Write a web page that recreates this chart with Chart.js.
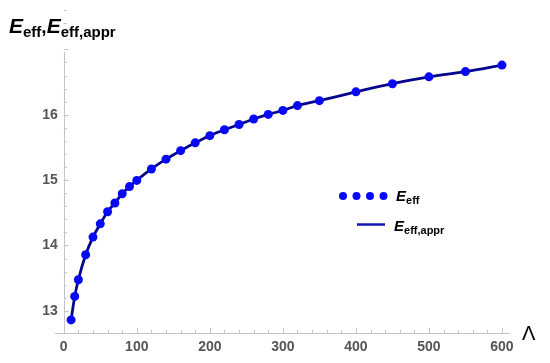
<!DOCTYPE html>
<html>
<head>
<meta charset="utf-8">
<script src="https://cdn.jsdelivr.net/npm/chart.js@4/dist/chart.umd.min.js"></script>
<style>
  html, body { margin: 0; padding: 0; background: #fff; }
  #wrap { position: relative; width: 550px; height: 363px; }
  #c { position: absolute; left: 0; top: 0; }
  .t { position: absolute; font-family: "Liberation Sans", Arial, sans-serif; white-space: nowrap; line-height: 1; color: #000; }
  .E { font-style: italic; font-weight: bold; }
  .s { font-weight: bold; position: relative; }
</style>
</head>
<body>
<div id="wrap">
  <canvas id="c" width="550" height="363"></canvas>
  <div class="t" style="left:9px; top:15px;"><span class="E" style="font-size:21px;">E</span><span class="s" style="font-size:15px; top:4px;">eff</span><span class="s" style="font-size:19px;">,</span><span class="E" style="font-size:21px;">E</span><span class="s" style="font-size:15px; top:4px;">eff,appr</span></div>
  <div class="t" style="left:522px; top:323px; font-size:20px;">Λ</div>
  <div class="t" style="left:396px; top:188px;"><span class="E" style="font-size:15px;">E</span><span class="s" style="font-size:11px; top:3px;">eff</span></div>
  <div class="t" style="left:394px; top:218px;"><span class="E" style="font-size:15px;">E</span><span class="s" style="font-size:11px; top:3px;">eff,appr</span></div>
</div>
<script>
const lambdaValues = [10, 15, 20, 30, 40, 50, 60, 70, 80, 90, 100, 120, 140, 160, 180, 200, 220, 240, 260, 280, 300, 320, 350, 400, 450, 500, 550, 600];
const effValues    = [12.86, 13.22, 13.475, 13.857, 14.128, 14.33, 14.515, 14.65, 14.79, 14.90, 14.995, 15.17, 15.32, 15.45, 15.57, 15.68, 15.77, 15.85, 15.934, 16.005, 16.066, 16.14, 16.215, 16.35, 16.475, 16.58, 16.66, 16.76];
const apprValues   = [12.86, 13.22, 13.475, 13.857, 14.128, 14.33, 14.515, 14.65, 14.79, 14.90, 14.995, 15.17, 15.32, 15.45, 15.57, 15.68, 15.77, 15.85, 15.934, 16.005, 16.066, 16.14, 16.215, 16.35, 16.475, 16.58, 16.66, 16.76];
const xTickLabels = [0, 100, 200, 300, 400, 500, 600];
const yTickLabels = [13, 14, 15, 16];

const POINT_COLOR = '#0808f8';
const LINE_COLOR = '#06068c';

const axesPlugin = {
  id: 'mathAxes',
  afterDraw(chart) {
    const ctx = chart.ctx;
    const xs = chart.scales.x, ys = chart.scales.y;
    const area = chart.chartArea;
    const x0 = xs.getPixelForValue(0);
    const yb = area.bottom;
    ctx.save();
    ctx.strokeStyle = '#c4c4c4';
    ctx.lineWidth = 1;
    ctx.beginPath();
    ctx.moveTo(area.left, yb + 0.5); ctx.lineTo(area.right, yb + 0.5);
    ctx.moveTo(Math.round(x0) + 0.5, yb); ctx.lineTo(Math.round(x0) + 0.5, area.top);
    ctx.stroke();
    ctx.beginPath();
    for (let v = 0; v <= 600; v += 20) {
      const p = Math.round(xs.getPixelForValue(v)) + 0.5;
      const len = (v % 100 === 0) ? 5 : 3;
      ctx.moveTo(p, yb); ctx.lineTo(p, yb - len);
    }
    for (let i = 65; i <= 169; i++) {
      const v = i / 5;
      const p = Math.round(ys.getPixelForValue(v)) + 0.5;
      const len = (i % 5 === 0) ? 5 : 3;
      ctx.moveTo(x0, p); ctx.lineTo(x0 + len, p);
    }
    ctx.stroke();
    ctx.fillStyle = '#555555';
    ctx.font = 'bold 14px "Liberation Sans", Arial, sans-serif';
    ctx.textAlign = 'center';
    ctx.textBaseline = 'middle';
    xTickLabels.forEach(v => ctx.fillText(String(v), xs.getPixelForValue(v), yb + 14));
    ctx.textAlign = 'right';
    yTickLabels.forEach(v => ctx.fillText(String(v), x0 - 6, ys.getPixelForValue(v)));
    ctx.fillStyle = POINT_COLOR;
    [343, 356.5, 370, 383.5].forEach(px => { ctx.beginPath(); ctx.arc(px, 196, 4, 0, Math.PI * 2); ctx.fill(); });
    ctx.strokeStyle = '#1414b4';
    ctx.lineWidth = 2.5;
    ctx.beginPath(); ctx.moveTo(357, 224.5); ctx.lineTo(385, 224.5); ctx.stroke();
    ctx.restore();
  }
};

new Chart(document.getElementById('c'), {
  type: 'scatter',
  data: {
    datasets: [
      {
        label: 'Eeff,appr',
        data: lambdaValues.map((x, i) => ({ x, y: apprValues[i] })),
        showLine: true,
        borderColor: LINE_COLOR,
        borderWidth: 2.8,
        pointRadius: 0,
        cubicInterpolationMode: 'monotone',
        order: 1
      },
      {
        label: 'Eeff',
        data: lambdaValues.map((x, i) => ({ x, y: effValues[i] })),
        showLine: false,
        backgroundColor: POINT_COLOR,
        borderColor: POINT_COLOR,
        borderWidth: 0,
        pointRadius: 4.5,
        order: 0
      }
    ]
  },
  options: {
    responsive: false,
    animation: false,
    layout: { padding: { left: 55, right: 40, top: 52, bottom: 30 } },
    plugins: { legend: { display: false }, tooltip: { enabled: false } },
    scales: {
      x: { type: 'linear', min: -12, max: 611, display: false },
      y: { type: 'linear', min: 12.66, max: 16.96, display: false }
    }
  },
  plugins: [axesPlugin]
});
</script>
</body>
</html>
